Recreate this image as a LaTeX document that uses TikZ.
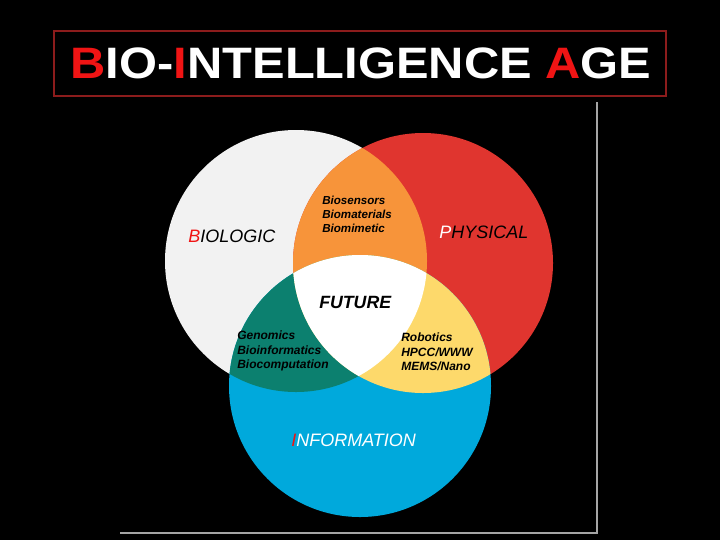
\documentclass[tikz,border=0pt]{standalone}
\usepackage{fontspec}
\setmainfont{Liberation Sans}
\usepackage{xcolor}

\definecolor{bioGrey}{RGB}{242,242,242}
\definecolor{physRed}{RGB}{224,53,47}
\definecolor{infoBlue}{RGB}{0,169,220}
\definecolor{mixOrange}{RGB}{247,148,58}
\definecolor{mixTeal}{RGB}{12,128,111}
\definecolor{mixYellow}{RGB}{253,217,107}
\definecolor{titleRed}{RGB}{240,20,20}
\definecolor{boxRed}{RGB}{140,28,28}
\definecolor{frameGrey}{RGB}{165,165,165}

\tikzset{
  setlabel/.style={anchor=base west,inner sep=0pt,font=\fontsize{13.5}{15}\selectfont\itshape},
  mixlabel/.style={anchor=north west,inner sep=0pt,align=left,text=black,font=\fontsize{9}{10.9}\selectfont\bfseries\itshape},
}

\begin{document}
\begin{tikzpicture}[x=0.75pt,y=0.75pt,yscale=-1,xscale=1]
%background, sets the size of the picture
\fill[black] (0,0) rectangle (720,540);
\useasboundingbox (0,0) rectangle (720,540);

%Shape: Circle [biologic]
\fill[bioGrey] (296,261) circle [radius=131];
%Shape: Circle [physical]
\fill[physRed] (423,263) circle [radius=130];
%Shape: Circle [information]
\fill[infoBlue] (360,386) circle [radius=131];

%Shape: Lens biologic/physical
\begin{scope}
\clip (296,261) circle [radius=131];
\fill[mixOrange] (423,263) circle [radius=130];
\end{scope}
%Shape: Lens biologic/information
\begin{scope}
\clip (296,261) circle [radius=131];
\fill[mixTeal] (360,386) circle [radius=131];
\end{scope}
%Shape: Lens physical/information
\begin{scope}
\clip (423,263) circle [radius=130];
\fill[mixYellow] (360,386) circle [radius=131];
\end{scope}
%Shape: Center of all three
\begin{scope}
\clip (296,261) circle [radius=131];
\clip (423,263) circle [radius=130];
\fill[white] (360,386) circle [radius=131];
\end{scope}

%Shape: Title box
\draw[boxRed,line width=1.1pt] (54,31) rectangle (666,96);
%Straight Lines: frame
\draw[frameGrey,line width=0.8pt] (597,102) -- (597,533) -- (120,533);

% Text Node
\node (title) [anchor=base,inner sep=0pt,xscale=1.11,text=white,font=\fontsize{33}{36}\selectfont\bfseries] at (361,78.3) {\textcolor{titleRed}{B}IO-\textcolor{titleRed}{I}NTELLIGENCE \textcolor{titleRed}{A}GE};
% Text Node
\node (biologic) [setlabel,text=black] at (188,242) {\textcolor{titleRed}{B}IOLOGIC};
% Text Node
\node (physical) [setlabel,text=black] at (439,238) {\textcolor{white}{P}HYSICAL};
% Text Node
\node (information) [setlabel,text=white] at (291,446) {\textcolor{titleRed}{I}NFORMATION};
% Text Node
\node (future) [setlabel,font=\fontsize{13.3}{15}\selectfont\bfseries\itshape] at (319,308) {FUTURE};
% Text Node
\node (biomix) [mixlabel,font=\fontsize{8.7}{10.5}\selectfont\bfseries\itshape] at (322,195.5) {Biosensors\\Biomaterials\\Biomimetic};
% Text Node
\node (genomix) [mixlabel] at (237,330.5) {Genomics\\Bioinformatics\\Biocomputation};
% Text Node
\node (robomix) [mixlabel] at (401,332.5) {Robotics\\HPCC/WWW\\MEMS/Nano};

\end{tikzpicture}
\end{document}
